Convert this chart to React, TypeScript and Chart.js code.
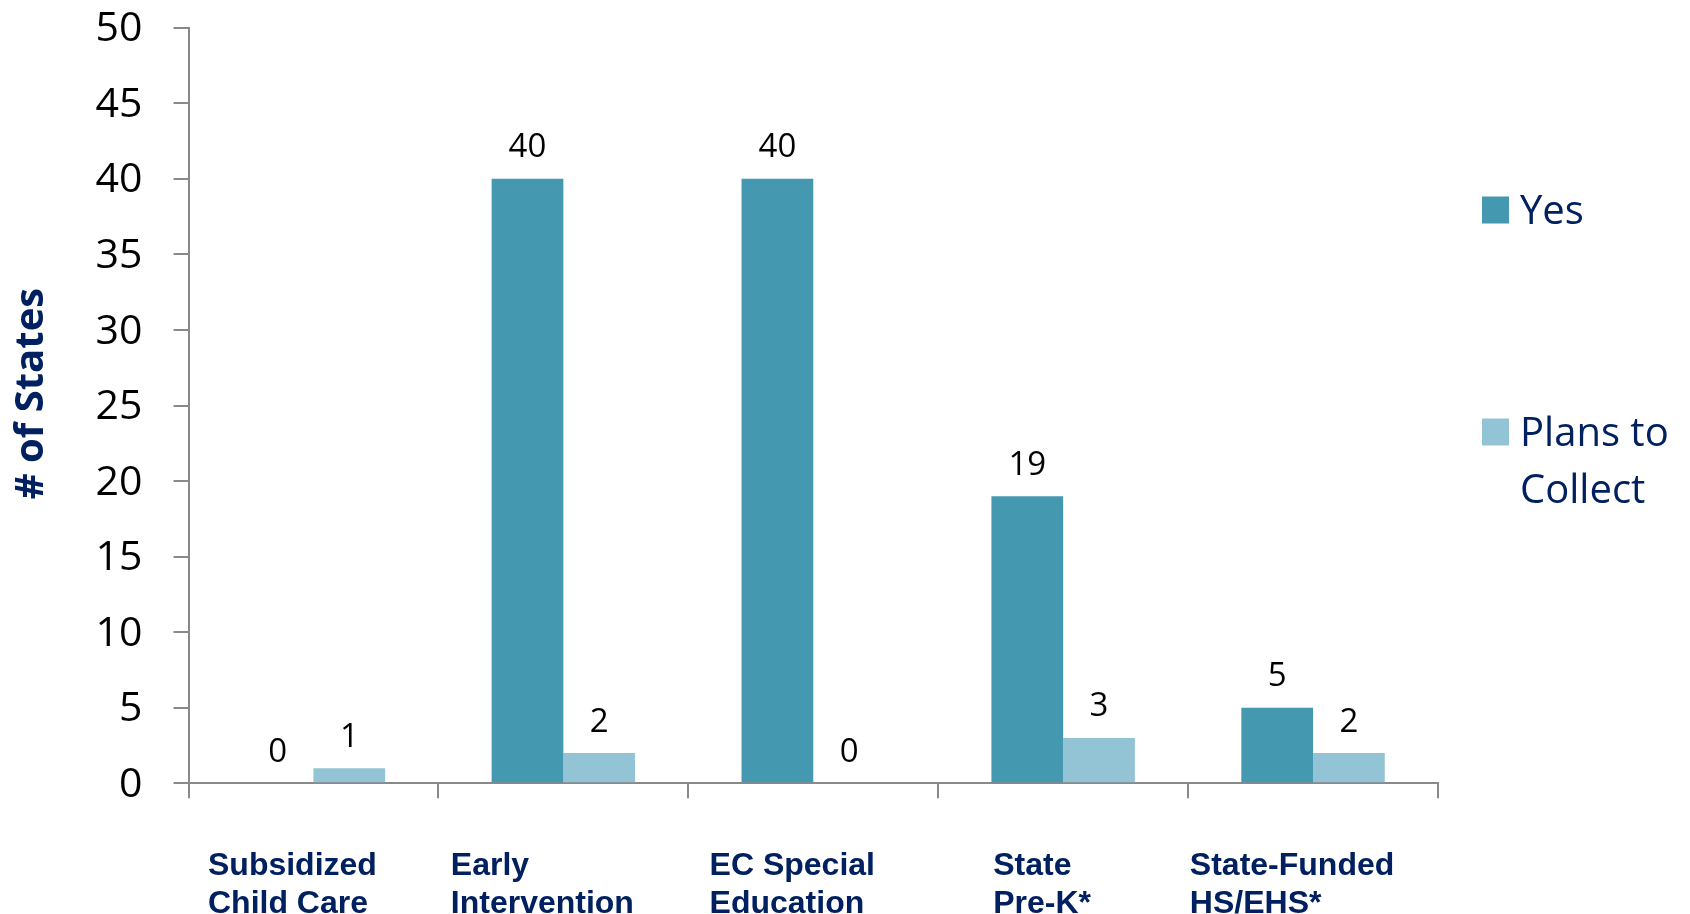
import React, { useEffect, useRef } from "react";
import { Chart, registerables } from "chart.js";

Chart.register(...registerables);

// ---- data ----
const CATEGORIES = [
  "Subsidized Child Care",
  "Early Intervention",
  "EC Special Education",
  "State Pre-K*",
  "State-Funded HS/EHS*",
];
const CATEGORY_LINES = [
  ["Subsidized", "Child Care"],
  ["Early", "Intervention"],
  ["EC Special", "Education"],
  ["State", "Pre-K*"],
  ["State-Funded", "HS/EHS*"],
];
const SERIES_NAMES = ["Yes", "Plans to Collect"];
const LEGEND_LINES = [["Yes"], ["Plans to", "Collect"]];
const YES_VALUES = [0, 40, 40, 19, 5];
const PLANS_VALUES = [1, 2, 0, 3, 2];
const Y_MIN = 0;
const Y_MAX = 50;
const Y_STEP = 5;
const Y_TITLE = "# of States";

// ---- styles ----
const YES_COLOR = "#4499B0";
const PLANS_COLOR = "#93C4D5";
const NAVY = "#002060";
const AXIS_GRAY = "#898989";
const BODY_FONT = "'Open Sans', 'DejaVu Sans', sans-serif";
const LABEL_FONT = "'Liberation Sans', Arial, sans-serif";

const dataLabelPlugin = {
  id: "dataLabels",
  afterDatasetsDraw(chart: any) {
    const ctx = chart.ctx;
    ctx.save();
    ctx.font = `33px ${BODY_FONT}`;
    ctx.fillStyle = "#000000";
    ctx.textAlign = "center";
    ctx.textBaseline = "alphabetic";
    chart.data.datasets.forEach((ds: any, di: number) => {
      const meta = chart.getDatasetMeta(di);
      meta.data.forEach((el: any, i: number) => {
        ctx.fillText(String(ds.data[i]), el.x, el.y - 21.5);
      });
    });
    ctx.restore();
  },
};

const xLabelPlugin = {
  id: "xLabels",
  afterDraw(chart: any) {
    const ctx = chart.ctx;
    const xs = chart.scales.x;
    const bottom = chart.chartArea.bottom;
    ctx.save();
    ctx.font = `bold 32px ${LABEL_FONT}`;
    ctx.fillStyle = NAVY;
    ctx.textAlign = "left";
    ctx.textBaseline = "alphabetic";
    CATEGORY_LINES.forEach((lines, i) => {
      const center = xs.getPixelForValue(i);
      const maxW = Math.max(...lines.map((l) => ctx.measureText(l).width));
      const left = center - maxW / 2 - 21;
      lines.forEach((line, li) => {
        ctx.fillText(line, left, bottom + 92 + li * 38);
      });
    });
    ctx.restore();
  },
};

const yTitlePlugin = {
  id: "yTitle",
  afterDraw(chart: any) {
    const ctx = chart.ctx;
    const { top, bottom } = chart.chartArea;
    ctx.save();
    ctx.translate(32, (top + bottom) / 2 - 12);
    ctx.rotate(-Math.PI / 2);
    ctx.font = `bold 40px ${BODY_FONT}`;
    ctx.fillStyle = NAVY;
    ctx.textAlign = "center";
    ctx.textBaseline = "middle";
    ctx.fillText(Y_TITLE, 0, 0);
    ctx.restore();
  },
};

const legendPlugin = {
  id: "customLegend",
  afterDraw(chart: any) {
    const ctx = chart.ctx;
    const right = chart.chartArea.right;
    const baselines = [224, 446];
    ctx.save();
    ctx.font = `40px ${BODY_FONT}`;
    ctx.textAlign = "left";
    ctx.textBaseline = "alphabetic";
    chart.data.datasets.forEach((ds: any, i: number) => {
      const base = baselines[i];
      ctx.fillStyle = ds.backgroundColor;
      ctx.fillRect(right + 44, base - 27.5, 27, 27);
      ctx.fillStyle = NAVY;
      LEGEND_LINES[i].forEach((line, li) => {
        ctx.fillText(line, right + 82, base + li * 57);
      });
    });
    ctx.restore();
  },
};

export default function App() {
  const canvasRef = useRef<HTMLCanvasElement | null>(null);

  useEffect(() => {
    document.body.style.margin = "0";
    document.body.style.overflow = "hidden";
    const canvas = canvasRef.current;
    if (!canvas) return;
    const chart = new Chart(canvas, {
      type: "bar",
      data: {
        labels: CATEGORIES,
        datasets: [
          {
            label: SERIES_NAMES[0],
            data: YES_VALUES,
            backgroundColor: YES_COLOR,
            borderWidth: 0,
            categoryPercentage: 0.574,
            barPercentage: 1.0,
          },
          {
            label: SERIES_NAMES[1],
            data: PLANS_VALUES,
            backgroundColor: PLANS_COLOR,
            borderWidth: 0,
            categoryPercentage: 0.574,
            barPercentage: 1.0,
          },
        ],
      },
      options: {
        responsive: false,
        animation: false,
        devicePixelRatio: 1,
        layout: { padding: { top: 27.7, left: 0, right: 252, bottom: 0 } },
        plugins: {
          legend: { display: false },
          tooltip: { enabled: false },
          title: { display: false },
        },
        scales: {
          x: {
            type: "category",
            ticks: { display: false },
            grid: {
              offset: true,
              drawOnChartArea: false,
              drawTicks: true,
              tickLength: 15,
              color: AXIS_GRAY,
              lineWidth: 2,
            },
            border: { display: true, color: AXIS_GRAY, width: 2 },
            afterFit(scale: any) {
              scale.height = 130.7;
              scale.paddingLeft = 0;
              scale.paddingRight = 0;
            },
          },
          y: {
            min: Y_MIN,
            max: Y_MAX,
            ticks: {
              stepSize: Y_STEP,
              color: "#000000",
              font: { family: BODY_FONT, size: 41 },
              padding: 31,
              labelOffset: 2,
            },
            grid: {
              drawOnChartArea: false,
              drawTicks: true,
              tickLength: 15,
              color: AXIS_GRAY,
              lineWidth: 2,
            },
            border: { display: true, color: AXIS_GRAY, width: 2 },
            afterFit(scale: any) {
              scale.width = 188.5;
              scale.paddingTop = 0;
              scale.paddingBottom = 0;
            },
          },
        },
      },
      plugins: [dataLabelPlugin, xLabelPlugin, yTitlePlugin, legendPlugin],
    } as any);
    return () => chart.destroy();
  }, []);

  return (
    <div style={{ width: 1690, height: 914, background: "#ffffff" }}>
      <canvas ref={canvasRef} width={1690} height={914} style={{ display: "block" }} />
    </div>
  );
}
